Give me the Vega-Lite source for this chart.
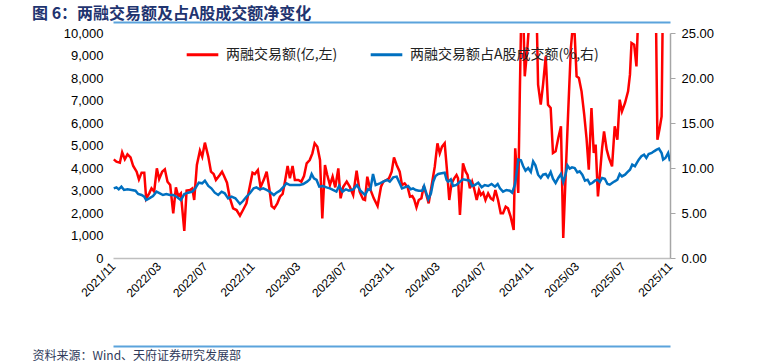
{
  "$schema": "https://vega.github.io/schema/vega-lite/v6.json",
  "width": 557,
  "height": 225,
  "autosize": {"type": "none"},
  "padding": {"left": 113, "top": 33, "right": 102, "bottom": 105},
  "background": "white",
  "title": {
    "text": "图 6：两融交易额及占A股成交额净变化",
    "anchor": "start",
    "frame": "group",
    "dx": -81,
    "offset": 13,
    "dy": 13,
    "font": "Noto Sans CJK SC",
    "fontSize": 16,
    "fontWeight": "bold",
    "color": "#1F3470"
  },
  "config": {
    "view": {"stroke": null},
    "axis": {"grid": false, "labelFont": "Liberation Sans", "labelColor": "#000000"}
  },
  "datasets": {
    "red": [
      {"d":"2021-11-03","v":4386},{"d":"2021-11-10","v":4281},{"d":"2021-11-19","v":4237},{"d":"2021-11-25","v":4696},
      {"d":"2021-12-02","v":4386},{"d":"2021-12-09","v":4607},{"d":"2021-12-17","v":4474},{"d":"2021-12-24","v":4089},
      {"d":"2022-01-02","v":3837},{"d":"2022-01-08","v":3496},{"d":"2022-01-15","v":3793},{"d":"2022-01-22","v":3793},
      {"d":"2022-01-27","v":2637},{"d":"2022-02-04","v":2874},{"d":"2022-02-10","v":3096},{"d":"2022-02-17","v":2948},
      {"d":"2022-02-24","v":3985},{"d":"2022-03-02","v":3511},{"d":"2022-03-10","v":3837},{"d":"2022-03-17","v":3941},
      {"d":"2022-03-24","v":3393},{"d":"2022-03-31","v":3244},{"d":"2022-04-08","v":1985},{"d":"2022-04-15","v":3141},
      {"d":"2022-04-21","v":2755},{"d":"2022-04-28","v":2874},{"d":"2022-05-07","v":1200},{"d":"2022-05-13","v":2993},
      {"d":"2022-05-22","v":3022},{"d":"2022-05-28","v":3096},{"d":"2022-06-02","v":2578},{"d":"2022-06-09","v":4133},
      {"d":"2022-06-17","v":4770},{"d":"2022-06-23","v":4504},{"d":"2022-06-30","v":5126},{"d":"2022-07-09","v":4504},
      {"d":"2022-07-16","v":3837},{"d":"2022-07-23","v":3733},{"d":"2022-07-29","v":3467},{"d":"2022-08-08","v":3689},
      {"d":"2022-08-14","v":3837},{"d":"2022-08-19","v":3659},{"d":"2022-08-27","v":3348},{"d":"2022-09-03","v":2696},
      {"d":"2022-09-12","v":2207},{"d":"2022-09-21","v":2133},{"d":"2022-09-30","v":1881},{"d":"2022-10-08","v":2133},
      {"d":"2022-10-17","v":2430},{"d":"2022-10-26","v":3200},{"d":"2022-11-02","v":3793},{"d":"2022-11-08","v":3733},
      {"d":"2022-11-16","v":3911},{"d":"2022-11-23","v":3141},{"d":"2022-12-02","v":3496},{"d":"2022-12-09","v":3837},
      {"d":"2022-12-16","v":3096},{"d":"2022-12-22","v":2311},{"d":"2022-12-29","v":2207},{"d":"2023-01-06","v":2430},
      {"d":"2023-01-13","v":2726},{"d":"2023-01-20","v":2844},{"d":"2023-01-26","v":3393},{"d":"2023-02-02","v":4089},
      {"d":"2023-02-08","v":3541},{"d":"2023-02-15","v":4089},{"d":"2023-02-21","v":3467},{"d":"2023-03-02","v":3467},
      {"d":"2023-03-10","v":3393},{"d":"2023-03-17","v":3644},{"d":"2023-03-24","v":4207},{"d":"2023-04-01","v":4355},
      {"d":"2023-04-08","v":4650},{"d":"2023-04-14","v":5096},{"d":"2023-04-21","v":4948},{"d":"2023-04-28","v":4355},
      {"d":"2023-05-04","v":1763},{"d":"2023-05-11","v":4133},{"d":"2023-05-17","v":3689},{"d":"2023-05-24","v":3244},
      {"d":"2023-05-31","v":3615},{"d":"2023-06-07","v":3141},{"d":"2023-06-15","v":3985},{"d":"2023-06-21","v":2652},
      {"d":"2023-06-28","v":3170},{"d":"2023-07-07","v":3393},{"d":"2023-07-15","v":3170},{"d":"2023-07-24","v":2800},
      {"d":"2023-08-02","v":3881},{"d":"2023-08-10","v":2948},{"d":"2023-08-19","v":2607},{"d":"2023-08-24","v":2578},
      {"d":"2023-08-30","v":3615},{"d":"2023-09-06","v":3096},{"d":"2023-09-16","v":2652},{"d":"2023-09-26","v":2311},
      {"d":"2023-10-05","v":3170},{"d":"2023-10-11","v":3393},{"d":"2023-10-20","v":3467},{"d":"2023-10-26","v":3541},
      {"d":"2023-11-02","v":3837},{"d":"2023-11-08","v":4474},{"d":"2023-11-15","v":4133},{"d":"2023-11-23","v":3837},
      {"d":"2023-11-29","v":3244},{"d":"2023-12-06","v":3319},{"d":"2023-12-14","v":3141},{"d":"2023-12-20","v":2726},
      {"d":"2023-12-26","v":2755},{"d":"2023-12-31","v":2607},{"d":"2024-01-06","v":2252},{"d":"2024-01-12","v":2578},
      {"d":"2024-01-19","v":2652},{"d":"2024-01-25","v":3200},{"d":"2024-02-01","v":2800},{"d":"2024-02-07","v":2430},
      {"d":"2024-02-15","v":3244},{"d":"2024-02-23","v":4059},{"d":"2024-03-01","v":5096},{"d":"2024-03-07","v":4650},
      {"d":"2024-03-13","v":4948},{"d":"2024-03-20","v":5096},{"d":"2024-03-26","v":3911},{"d":"2024-04-01","v":2578},
      {"d":"2024-04-07","v":3319},{"d":"2024-04-14","v":3541},{"d":"2024-04-20","v":3689},{"d":"2024-04-24","v":3541},
      {"d":"2024-04-29","v":1911},{"d":"2024-05-03","v":3022},{"d":"2024-05-07","v":4207},{"d":"2024-05-14","v":3837},
      {"d":"2024-05-19","v":3689},{"d":"2024-05-25","v":3096},{"d":"2024-05-31","v":3393},{"d":"2024-06-05","v":3096},
      {"d":"2024-06-12","v":2578},{"d":"2024-06-18","v":3022},{"d":"2024-06-23","v":2800},{"d":"2024-06-29","v":2903},
      {"d":"2024-07-05","v":2578},{"d":"2024-07-12","v":2874},{"d":"2024-07-19","v":2652},{"d":"2024-07-25","v":2578},
      {"d":"2024-07-31","v":3022},{"d":"2024-08-07","v":2578},{"d":"2024-08-14","v":1985},{"d":"2024-08-20","v":1985},
      {"d":"2024-08-27","v":2281},{"d":"2024-09-02","v":2207},{"d":"2024-09-09","v":1837},{"d":"2024-09-17","v":1244},
      {"d":"2024-09-21","v":4874},{"d":"2024-09-29","v":2889},{"d":"2024-10-03","v":7259},{"d":"2024-10-08","v":12000},
      {"d":"2024-10-12","v":11000},{"d":"2024-10-16","v":8074},{"d":"2024-10-23","v":9333},{"d":"2024-10-29","v":10800},
      {"d":"2024-11-06","v":13000},{"d":"2024-11-16","v":11000},{"d":"2024-11-20","v":7704},{"d":"2024-11-27","v":6815},
      {"d":"2024-12-03","v":7704},{"d":"2024-12-10","v":8963},{"d":"2024-12-16","v":6815},{"d":"2024-12-23","v":6667},
      {"d":"2024-12-29","v":4667},{"d":"2025-01-05","v":4741},{"d":"2025-01-12","v":5333},{"d":"2025-01-19","v":5852},
      {"d":"2025-01-25","v":889},{"d":"2025-01-31","v":3555},{"d":"2025-02-07","v":6518},{"d":"2025-02-14","v":9333},
      {"d":"2025-02-20","v":10500},{"d":"2025-02-24","v":9926},{"d":"2025-03-01","v":8074},{"d":"2025-03-07","v":8000},
      {"d":"2025-03-14","v":7407},{"d":"2025-03-21","v":6370},{"d":"2025-03-27","v":5333},{"d":"2025-04-02","v":3926},
      {"d":"2025-04-09","v":6667},{"d":"2025-04-15","v":4667},{"d":"2025-04-20","v":5037},{"d":"2025-04-26","v":2741},
      {"d":"2025-05-01","v":3704},{"d":"2025-05-07","v":4889},{"d":"2025-05-12","v":5630},{"d":"2025-05-19","v":4815},
      {"d":"2025-05-25","v":4444},{"d":"2025-06-02","v":4074},{"d":"2025-06-09","v":5852},{"d":"2025-06-16","v":5259},
      {"d":"2025-06-22","v":7037},{"d":"2025-06-28","v":6518},{"d":"2025-07-06","v":6889},{"d":"2025-07-14","v":7407},
      {"d":"2025-07-19","v":8148},{"d":"2025-07-23","v":9556},{"d":"2025-07-30","v":9481},{"d":"2025-08-05","v":8518},
      {"d":"2025-08-09","v":10500},{"d":"2025-08-16","v":12000},{"d":"2025-08-24","v":13000},{"d":"2025-09-01","v":12500},
      {"d":"2025-09-09","v":14000},{"d":"2025-09-17","v":13000},{"d":"2025-09-25","v":11000},{"d":"2025-09-29","v":5259},
      {"d":"2025-10-05","v":5778},{"d":"2025-10-10","v":6296},{"d":"2025-10-13","v":11000},{"d":"2025-10-21","v":13000},
      {"d":"2025-10-29","v":12000}
    ],
    "blue": [
      {"d":"2021-11-03","p":7.74},{"d":"2021-11-10","p":7.85},{"d":"2021-11-16","p":7.63},{"d":"2021-11-23","p":7.93},
      {"d":"2021-11-30","p":7.56},{"d":"2021-12-09","p":7.63},{"d":"2021-12-20","p":7.56},{"d":"2021-12-30","p":7.48},
      {"d":"2022-01-06","p":7.11},{"d":"2022-01-15","p":7.0},{"d":"2022-01-22","p":6.81},{"d":"2022-01-27","p":6.44},
      {"d":"2022-02-04","p":6.63},{"d":"2022-02-14","p":6.89},{"d":"2022-02-23","p":7.37},{"d":"2022-03-04","p":7.19},
      {"d":"2022-03-12","p":7.0},{"d":"2022-03-21","p":7.11},{"d":"2022-03-30","p":7.0},{"d":"2022-04-08","p":7.0},
      {"d":"2022-04-17","p":6.81},{"d":"2022-04-28","p":6.44},{"d":"2022-05-07","p":7.11},{"d":"2022-05-17","p":7.26},
      {"d":"2022-05-28","p":7.37},{"d":"2022-06-05","p":7.74},{"d":"2022-06-14","p":8.37},{"d":"2022-06-23","p":8.3},
      {"d":"2022-06-30","p":8.59},{"d":"2022-07-09","p":8.0},{"d":"2022-07-17","p":7.74},{"d":"2022-07-26","p":7.26},
      {"d":"2022-08-04","p":7.0},{"d":"2022-08-13","p":7.37},{"d":"2022-08-21","p":7.19},{"d":"2022-08-30","p":6.63},
      {"d":"2022-09-08","p":6.81},{"d":"2022-09-18","p":6.63},{"d":"2022-09-30","p":6.0},{"d":"2022-10-08","p":6.33},
      {"d":"2022-10-17","p":6.81},{"d":"2022-10-26","p":7.19},{"d":"2022-11-05","p":7.74},{"d":"2022-11-12","p":7.85},
      {"d":"2022-11-21","p":7.63},{"d":"2022-11-30","p":7.74},{"d":"2022-12-09","p":7.56},{"d":"2022-12-17","p":7.37},
      {"d":"2022-12-28","p":7.0},{"d":"2023-01-04","p":7.26},{"d":"2023-01-13","p":7.48},{"d":"2023-01-21","p":7.85},
      {"d":"2023-01-30","p":8.3},{"d":"2023-02-08","p":8.11},{"d":"2023-02-16","p":8.11},{"d":"2023-02-25","p":8.11},
      {"d":"2023-03-06","p":8.11},{"d":"2023-03-15","p":8.22},{"d":"2023-03-25","p":8.48},{"d":"2023-04-01","p":8.74},
      {"d":"2023-04-06","p":9.33},{"d":"2023-04-12","p":8.85},{"d":"2023-04-19","p":8.67},{"d":"2023-04-26","p":7.93},
      {"d":"2023-05-05","p":8.0},{"d":"2023-05-15","p":7.85},{"d":"2023-05-24","p":7.74},{"d":"2023-06-01","p":7.56},
      {"d":"2023-06-10","p":7.37},{"d":"2023-06-17","p":8.0},{"d":"2023-06-26","p":7.37},{"d":"2023-07-05","p":7.63},
      {"d":"2023-07-13","p":7.48},{"d":"2023-07-24","p":7.63},{"d":"2023-08-03","p":8.11},{"d":"2023-08-12","p":7.48},
      {"d":"2023-08-24","p":7.0},{"d":"2023-09-01","p":7.63},{"d":"2023-09-07","p":7.56},{"d":"2023-09-14","p":9.33},
      {"d":"2023-09-21","p":8.11},{"d":"2023-10-02","p":8.3},{"d":"2023-10-11","p":8.48},{"d":"2023-10-21","p":8.67},
      {"d":"2023-10-28","p":8.48},{"d":"2023-11-06","p":8.96},{"d":"2023-11-15","p":9.04},{"d":"2023-11-23","p":8.3},
      {"d":"2023-11-29","p":7.74},{"d":"2023-12-06","p":7.85},{"d":"2023-12-15","p":8.0},{"d":"2023-12-22","p":7.63},
      {"d":"2023-12-28","p":7.74},{"d":"2024-01-04","p":7.56},{"d":"2024-01-12","p":7.48},{"d":"2024-01-21","p":7.48},
      {"d":"2024-01-26","p":8.0},{"d":"2024-02-01","p":7.19},{"d":"2024-02-06","p":6.52},{"d":"2024-02-13","p":7.19},
      {"d":"2024-02-19","p":8.48},{"d":"2024-02-25","p":9.11},{"d":"2024-03-03","p":9.33},{"d":"2024-03-12","p":9.41},
      {"d":"2024-03-20","p":9.48},{"d":"2024-03-25","p":8.67},{"d":"2024-03-29","p":8.48},{"d":"2024-04-05","p":8.74},
      {"d":"2024-04-11","p":8.0},{"d":"2024-04-20","p":8.11},{"d":"2024-04-29","p":8.48},{"d":"2024-05-07","p":8.74},
      {"d":"2024-05-16","p":8.67},{"d":"2024-05-25","p":8.59},{"d":"2024-05-31","p":8.0},{"d":"2024-06-07","p":8.11},
      {"d":"2024-06-16","p":8.37},{"d":"2024-06-25","p":7.85},{"d":"2024-07-03","p":8.11},{"d":"2024-07-12","p":8.0},
      {"d":"2024-07-21","p":8.22},{"d":"2024-07-30","p":7.93},{"d":"2024-08-06","p":8.22},{"d":"2024-08-12","p":7.74},
      {"d":"2024-08-20","p":7.37},{"d":"2024-08-29","p":7.56},{"d":"2024-09-07","p":7.48},{"d":"2024-09-13","p":7.26},
      {"d":"2024-09-20","p":8.11},{"d":"2024-09-24","p":9.26},{"d":"2024-09-29","p":10.93},{"d":"2024-10-06","p":10.85},
      {"d":"2024-10-12","p":10.19},{"d":"2024-10-18","p":9.7},{"d":"2024-10-25","p":10.0},{"d":"2024-11-01","p":9.56},
      {"d":"2024-11-07","p":10.74},{"d":"2024-11-13","p":10.3},{"d":"2024-11-20","p":9.26},{"d":"2024-11-27","p":8.89},
      {"d":"2024-12-03","p":9.26},{"d":"2024-12-10","p":9.33},{"d":"2024-12-16","p":8.96},{"d":"2024-12-23","p":9.56},
      {"d":"2024-12-29","p":8.81},{"d":"2025-01-05","p":8.33},{"d":"2025-01-12","p":8.89},{"d":"2025-01-19","p":9.33},
      {"d":"2025-01-25","p":8.44},{"d":"2025-01-31","p":9.26},{"d":"2025-02-05","p":10.3},{"d":"2025-02-11","p":9.93},
      {"d":"2025-02-17","p":10.07},{"d":"2025-02-24","p":10.0},{"d":"2025-03-03","p":9.52},{"d":"2025-03-09","p":9.63},
      {"d":"2025-03-16","p":9.26},{"d":"2025-03-23","p":8.59},{"d":"2025-03-30","p":8.7},{"d":"2025-04-05","p":8.22},
      {"d":"2025-04-11","p":8.33},{"d":"2025-04-18","p":8.59},{"d":"2025-04-25","p":8.7},{"d":"2025-05-01","p":8.44},
      {"d":"2025-05-07","p":8.89},{"d":"2025-05-14","p":8.81},{"d":"2025-05-21","p":8.22},{"d":"2025-05-27","p":8.15},
      {"d":"2025-06-02","p":8.33},{"d":"2025-06-09","p":8.52},{"d":"2025-06-16","p":8.7},{"d":"2025-06-22","p":9.33},
      {"d":"2025-06-28","p":9.07},{"d":"2025-07-06","p":9.26},{"d":"2025-07-13","p":9.56},{"d":"2025-07-19","p":9.81},
      {"d":"2025-07-25","p":10.37},{"d":"2025-08-01","p":10.19},{"d":"2025-08-06","p":10.56},{"d":"2025-08-11","p":10.93},
      {"d":"2025-08-18","p":11.3},{"d":"2025-08-25","p":11.48},{"d":"2025-08-31","p":11.11},{"d":"2025-09-06","p":11.56},
      {"d":"2025-09-14","p":11.67},{"d":"2025-09-20","p":11.85},{"d":"2025-09-27","p":12.04},{"d":"2025-10-03","p":12.15},
      {"d":"2025-10-10","p":11.67},{"d":"2025-10-14","p":10.93},{"d":"2025-10-20","p":11.11},{"d":"2025-10-27","p":11.67},
      {"d":"2025-11-01","p":10.74}
    ]
  },
  "layer": [
    {
      "data": {"name": "red"},
      "mark": {"type": "line", "clip": true, "strokeWidth": 2.5, "interpolate": "linear"},
      "encoding": {
        "x": {
          "field": "d", "type": "temporal",
          "scale": {"type": "utc", "domain": [{"year": 2021, "month": 11, "date": 1, "utc": true}, {"year": 2025, "month": 11, "date": 1, "utc": true}]},
          "axis": {
            "values": [
              {"year": 2021, "month": 11, "date": 1, "utc": true},
              {"year": 2022, "month": 3, "date": 1, "utc": true},
              {"year": 2022, "month": 7, "date": 1, "utc": true},
              {"year": 2022, "month": 11, "date": 1, "utc": true},
              {"year": 2023, "month": 3, "date": 1, "utc": true},
              {"year": 2023, "month": 7, "date": 1, "utc": true},
              {"year": 2023, "month": 11, "date": 1, "utc": true},
              {"year": 2024, "month": 3, "date": 1, "utc": true},
              {"year": 2024, "month": 7, "date": 1, "utc": true},
              {"year": 2024, "month": 11, "date": 1, "utc": true},
              {"year": 2025, "month": 3, "date": 1, "utc": true},
              {"year": 2025, "month": 7, "date": 1, "utc": true},
              {"year": 2025, "month": 11, "date": 1, "utc": true}
            ],
            "labelExpr": "utcFormat(datum.value, '%Y/%m')",
            "labelAngle": -45,
            "labelAlign": "right",
            "labelBaseline": "middle",
            "labelFontSize": 12,
            "labelPadding": 6,
            "labelOverlap": false,
            "labelBound": false,
            "labelFlush": false,
            "ticks": false,
            "domainColor": "#BFBFBF",
            "domainWidth": 1.5,
            "title": "资料来源：Wind、天府证券研究发展部",
            "titleAnchor": "start",
            "titleAlign": "left",
            "titleX": -81,
            "titleY": 97,
            "titleBaseline": "middle",
            "titleFont": "Noto Sans CJK SC",
            "titleFontSize": 12,
            "titleFontWeight": "normal",
            "titleColor": "#2F3A5A"
          }
        },
        "y": {
          "field": "v", "type": "quantitative",
          "scale": {"domain": [0, 10000], "nice": false, "zero": true},
          "axis": {
            "orient": "left",
            "values": [0, 1000, 2000, 3000, 4000, 5000, 6000, 7000, 8000, 9000, 10000],
            "format": ",.0f",
            "labelFontSize": 13,
            "labelPadding": 10,
            "ticks": false,
            "domain": false,
            "title": null
          }
        },
        "color": {
          "datum": "两融交易额(亿,左)",
          "scale": {"domain": ["两融交易额(亿,左)", "两融交易额占A股成交额(%,右)"], "range": ["#FF0000", "#0070C0"]},
          "legend": {
            "orient": "none",
            "legendX": 72,
            "legendY": 4,
            "direction": "horizontal",
            "title": null,
            "symbolType": "stroke",
            "symbolSize": 1000,
            "symbolStrokeWidth": 3,
            "labelFont": "Noto Sans CJK SC",
            "labelFontSize": 14,
            "labelColor": "#222222",
            "labelOffset": 6,
            "columnPadding": 26,
            "labelLimit": 300
          }
        }
      }
    },
    {
      "data": {"name": "blue"},
      "mark": {"type": "line", "clip": true, "strokeWidth": 2.5},
      "encoding": {
        "x": {
          "field": "d", "type": "temporal",
          "axis": {"orient": "top", "offset": 11, "labels": false, "ticks": false, "title": null, "domainColor": "#5BA3DC", "domainWidth": 2}
        },
        "y": {
          "field": "p", "type": "quantitative",
          "scale": {"domain": [0, 25], "nice": false},
          "axis": {
            "orient": "right",
            "values": [0, 5, 10, 15, 20, 25],
            "format": ".2f",
            "labelFontSize": 13,
            "labelPadding": 6,
            "tickSize": 5,
            "tickColor": "#A6A6A6",
            "domainColor": "#A6A6A6",
            "domainWidth": 1.5,
            "title": null
          }
        },
        "color": {"datum": "两融交易额占A股成交额(%,右)"}
      }
    },
    {
      "data": {"name": "blue"},
      "mark": {"type": "line", "strokeOpacity": 0, "clip": true},
      "encoding": {
        "x": {
          "field": "d", "type": "temporal",
          "axis": {"orient": "bottom", "offset": 88, "labels": false, "ticks": false, "title": null, "domainColor": "#5BA3DC", "domainWidth": 2}
        },
        "y": {"field": "p", "type": "quantitative", "axis": null}
      }
    }
  ],
  "resolve": {"scale": {"y": "independent"}, "axis": {"x": "independent"}}
}
